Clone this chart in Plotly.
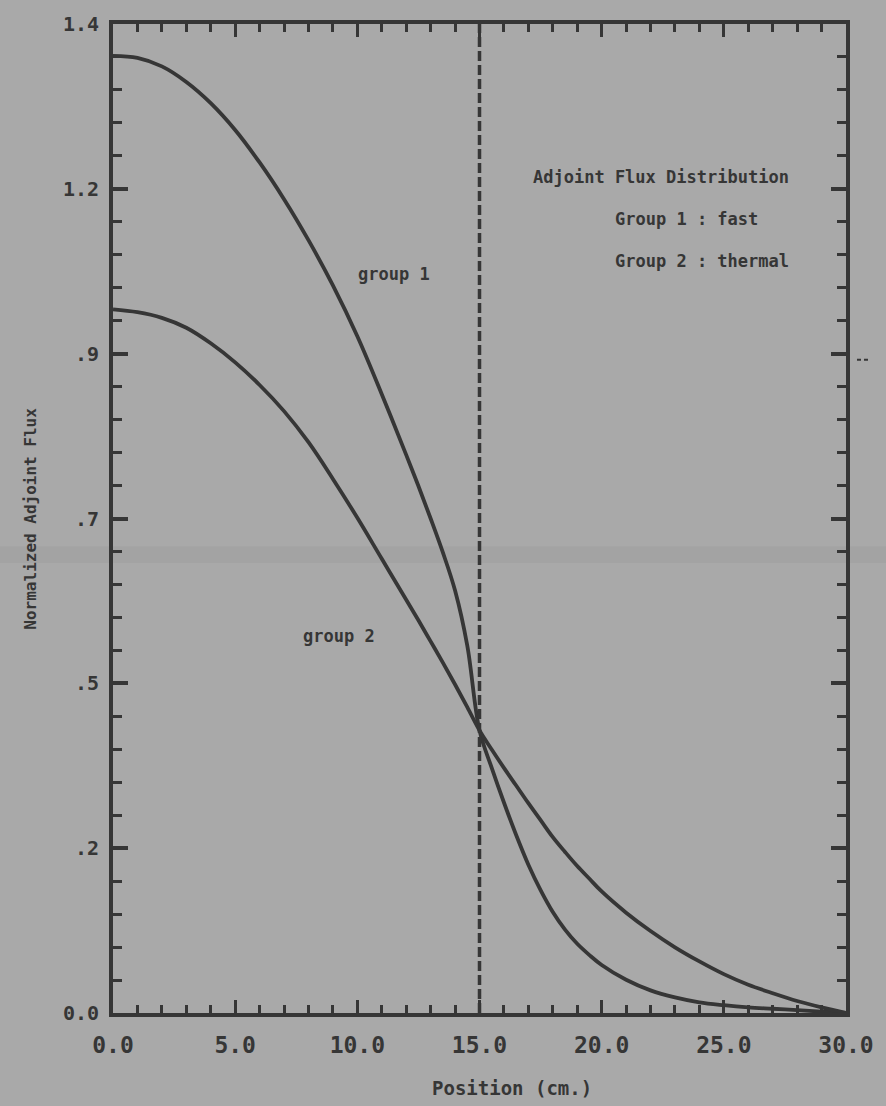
import plotly.graph_objects as go

# Position across the slab (cm), group 1 (fast) samples
group1_x = [0, 1, 2, 3, 4, 5, 6, 7, 8, 9, 10, 11,
            12, 12.5, 13, 13.5, 14, 14.5, 15, 15.5, 16, 16.5, 17, 17.5, 18, 18.5, 19, 19.5,
            20, 21, 22, 23, 24, 25, 26, 27, 28, 29, 30]
group1_flux = [1.355, 1.352, 1.340, 1.318, 1.288, 1.250, 1.204, 1.152, 1.094, 1.030, 0.958, 0.876,
               0.790, 0.746, 0.700, 0.652, 0.598, 0.520, 0.400, 0.347, 0.298, 0.252, 0.210,
               0.174, 0.143, 0.118, 0.098, 0.082,
               0.068, 0.047, 0.032, 0.022, 0.015, 0.011, 0.008, 0.006, 0.004, 0.002, 0.0]

# Position across the slab (cm), group 2 (thermal) samples
group2_x = [0, 1, 2, 3, 4, 5, 6, 7, 8, 9, 10, 11,
            12, 12.5, 13, 13.5, 14, 14.5, 15, 15.5, 16, 16.5, 17, 17.5, 18, 18.5, 19, 19.5,
            20, 21, 22, 23, 24, 25, 26, 27, 28, 29, 30]
group2_flux = [0.996, 0.992, 0.984, 0.970, 0.948, 0.921, 0.889, 0.852, 0.808, 0.756, 0.701, 0.643,
               0.585, 0.556, 0.526, 0.496, 0.465, 0.433, 0.400, 0.373, 0.347, 0.322, 0.297,
               0.273, 0.249, 0.228, 0.208, 0.190,
               0.172, 0.142, 0.116, 0.093, 0.073, 0.055, 0.040, 0.028, 0.017, 0.008, 0.0]

interface_cm = 15.0

x_tickvals = [0, 5, 10, 15, 20, 25, 30]
x_ticktext = ["0.0", "5.0", "10.0", "15.0", "20.0", "25.0", "30.0"]
y_tickvals = [0.0, 0.23333, 0.46667, 0.70, 0.93333, 1.16667, 1.4]
y_ticktext = ["0.0", ".2", ".5", ".7", ".9", "1.2", "1.4"]

INK = "#363636"
PAPER = "#a9a9a9"
FONT = "DejaVu Sans Mono"

fig = go.Figure()

fig.add_trace(go.Scatter(
    x=group1_x, y=group1_flux, mode="lines", name="group 1",
    line=dict(color=INK, width=3.8, shape="spline", smoothing=1.0),
))
fig.add_trace(go.Scatter(
    x=group2_x, y=group2_flux, mode="lines", name="group 2",
    line=dict(color=INK, width=3.8, shape="spline", smoothing=1.0),
))

# Core / reflector interface
fig.add_shape(type="line", xref="x", yref="paper", x0=interface_cm, x1=interface_cm,
              y0=0, y1=1, line=dict(color=INK, width=3.5, dash="10px,4px"))

# faint horizontal scan band
fig.add_shape(type="rect", xref="paper", yref="paper", x0=-0.16, x1=1.06,
              y0=0.455, y1=0.472, fillcolor="rgba(60,60,60,0.05)",
              line=dict(width=0), layer="below")

# small stray mark right of the frame
fig.add_shape(type="line", xref="paper", yref="paper", x0=1.015, x1=1.032,
              y0=0.6606, y1=0.6606, line=dict(color=INK, width=2, dash="4px,3px"))

tfont = dict(family=FONT, size=17, color=INK, weight="bold")

notes = [
    ("Adjoint Flux Distribution", 17.12, 1.183),
    ("Group 1 : fast", 20.46, 1.124),
    ("Group 2 : thermal", 20.46, 1.064),
    ("group 1", 9.95, 1.046),
    ("group 2", 7.70, 0.534),
]
for text, xv, yv in notes:
    fig.add_annotation(text=text, x=xv, y=yv, xref="x", yref="y",
                       xanchor="left", yanchor="middle", showarrow=False, font=tfont)

fig.add_annotation(text="Position (cm.)", x=0.545, y=-0.0755, xref="paper", yref="paper",
                   xanchor="center", yanchor="middle", showarrow=False,
                   font=dict(family=FONT, size=19, color=INK, weight="bold"))
fig.add_annotation(text="Normalized Adjoint Flux", x=-0.113, y=0.5, xref="paper", yref="paper",
                   xanchor="center", yanchor="middle", showarrow=False, textangle=-90,
                   font=dict(family=FONT, size=16, color=INK, weight="bold"))

fig.update_layout(
    width=886, height=1106,
    margin=dict(l=113, r=37, t=20, b=93),
    paper_bgcolor=PAPER, plot_bgcolor=PAPER,
    showlegend=False,
    xaxis=dict(
        range=[0, 30], tickvals=x_tickvals, ticktext=x_ticktext,
        ticks="inside", ticklen=13, tickwidth=3, tickcolor=INK,
        showline=True, linewidth=4, linecolor=INK, mirror="allticks",
        showgrid=False, zeroline=False, ticklabelstandoff=8,
        tickfont=dict(family=FONT, size=23, color=INK, weight="bold"),
        minor=dict(dtick=1, ticks="inside", ticklen=8, tickwidth=3, tickcolor=INK, showgrid=False),
    ),
    yaxis=dict(
        range=[0, 1.4], tickvals=y_tickvals, ticktext=y_ticktext,
        ticks="inside", ticklen=15, tickwidth=3.5, tickcolor=INK,
        showline=True, linewidth=4, linecolor=INK, mirror="allticks",
        showgrid=False, zeroline=False, ticklabelstandoff=6,
        tickfont=dict(family=FONT, size=20, color=INK, weight="bold"),
        minor=dict(tick0=0, dtick=1.4 / 30, ticks="inside", ticklen=9, tickwidth=3,
                   tickcolor=INK, showgrid=False),
    ),
)

fig.write_html("out.html")
